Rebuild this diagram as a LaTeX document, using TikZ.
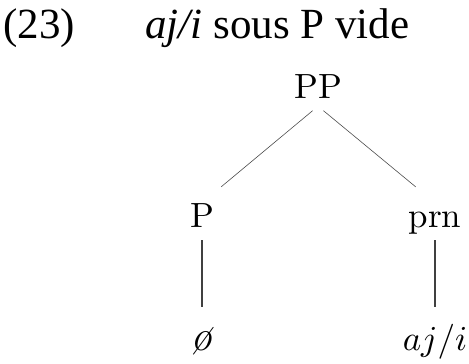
\documentclass[tikz,border=0pt]{standalone}
\usepackage{graphicx}
\usepackage{fontspec}
\setmainfont{lmroman10-regular.otf}[ItalicFont=lmroman10-italic.otf,BoldFont=lmroman10-bold.otf]
\newfontfamily\timesfont{Liberation Serif}
\newcommand{\bigmath}[1]{\scalebox{3.5}{\fontsize{10}{12}\selectfont$#1$}}
\begin{document}
\begin{tikzpicture}[x=1pt,y=-1pt,
  hdr/.style={anchor=base west,inner sep=0pt,font=\timesfont\fontsize{43}{50}\selectfont},
  tnode/.style={anchor=base,inner sep=0pt,text height=24pt,text depth=8pt,font=\fontsize{35}{40}\selectfont},
  branch/.style={line width=0.6pt,black!70},
  stem/.style={line width=1.2pt,black!75}]
\useasboundingbox (0,0) rectangle (469,364);
\node[hdr] (num) at (3,38) {(23)};
\node[hdr] (title) at (145,38) {\textit{aj/i} sous P vide};
\node[tnode] (PP) at (318,98) {PP};
\node[tnode] (P) at (202,227) {P};
\node[tnode] (prn) at (435,227) {prn};
\node[tnode] (empty) at (202,350) {\fontsize{43}{48}\selectfont\textit{\o}};
\node[tnode] (aji) at (435,350) {\bigmath{aj/i}};
\draw[branch,shorten <=7pt,shorten >=25pt] (PP.south) -- (P.north);
\draw[branch,shorten <=7pt,shorten >=25pt] (PP.south) -- (prn.north);
\draw[stem,shorten <=5pt,shorten >=19pt] (P.south) -- (empty.north);
\draw[stem,shorten <=5pt,shorten >=19pt] (prn.south) -- (aji.north);
\end{tikzpicture}
\end{document}
